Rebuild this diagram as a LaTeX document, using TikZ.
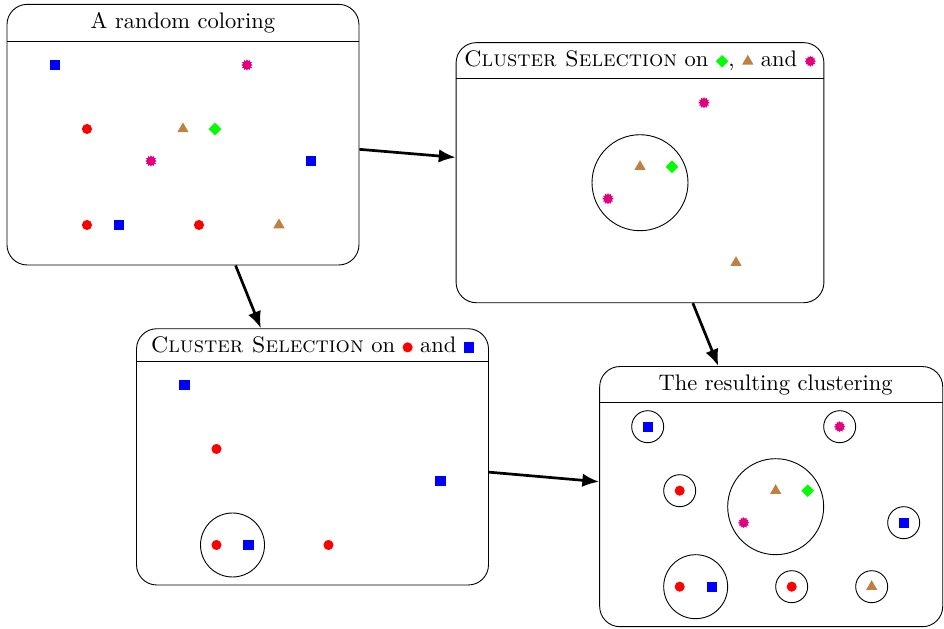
\documentclass[tikz,border=0pt]{standalone}
\usepackage{tikz}
\usetikzlibrary{shapes.geometric,fit,arrows.meta}

\definecolor{starpink}{RGB}{227,0,127}

\tikzset{
  mk/.style={inner sep=0pt, outer sep=0pt, draw=none},
  sq/.style={mk, rectangle, fill=blue, minimum size=4.6pt},
  dot/.style={mk, circle, fill=red, minimum size=4.5pt},
  tri/.style={mk, regular polygon, regular polygon sides=3, fill=brown, minimum size=5.8pt},
  dia/.style={mk, diamond, fill=green, minimum size=5.6pt},
  burst/.style={mk, star, star points=12, star point ratio=1.4, fill=starpink, minimum size=5pt},
  panel/.style={draw, rounded corners=9pt, inner sep=0pt},
  flow/.style={very thick, -{Latex[length=7.5pt,width=6pt]}},
  inmark/.style={baseline={([yshift=-2.3pt]m.center)}}
}

\newcommand{\mksq}{\tikz[inmark]\node[sq] (m) {};}
\newcommand{\mkdot}{\tikz[inmark]\node[dot] (m) {};}
\newcommand{\mktri}{\tikz[inmark]\node[tri] (m) {};}
\newcommand{\mkdia}{\tikz[inmark]\node[dia] (m) {};}
\newcommand{\mkstar}{\tikz[inmark]\node[burst] (m) {};}

\begin{document}
\begin{tikzpicture}
\useasboundingbox (0,0) rectangle (14.75,9.828);

% A random coloring
\begin{scope}[shift={(0.359cm,5.8125cm)}, x=0.5cm, y=0.5cm]
  \foreach \p [count=\i] in {(1,6),(9,3),(3,1)} \node[sq] (sqA\i) at \p {};
  \foreach \p [count=\i] in {(2,4),(2,1),(5.5,1)} \node[dot] (dotA\i) at \p {};
  \foreach \p [count=\i] in {(5,4),(8,1)} \node[tri] (triA\i) at \p {};
  \foreach \p [count=\i] in {(7,6),(4,3)} \node[burst] (starA\i) at \p {};
  \node[dia] (diaA) at (6,4) {};
  \node[anchor=south] (titleA) at (5,6.75) {A random coloring};
  \node[panel, fit={(-0.5,-0.25) (10.5,6.75) (titleA)}] (boxA) {};
  \draw (boxA.west |- titleA.south) -- (boxA.east |- titleA.south);
\end{scope}

% Selection on diamonds, triangles and stars
\begin{scope}[shift={(7.5cm,5.223cm)}, x=0.5cm, y=0.5cm]
  \foreach \p [count=\i] in {(5,4),(8,1)} \node[tri] (triB\i) at \p {};
  \foreach \p [count=\i] in {(7,6),(4,3)} \node[burst] (starB\i) at \p {};
  \node[dia] (diaB) at (6,4) {};
  \draw (5,3.5) circle (1.5);
  \node[anchor=south] (titleB) at (5,6.75) {\textsc{Cluster Selection} on \mkdia, \mktri{} and \mkstar};
  \node[panel, fit={(-0.5,-0.25) (10.5,6.75) (titleB)}] (boxB) {};
  \draw (boxB.west |- titleB.south) -- (boxB.east |- titleB.south);
\end{scope}

% Selection on circles and squares
\begin{scope}[shift={(2.383cm,0.8125cm)}, x=0.5cm, y=0.5cm]
  \foreach \p [count=\i] in {(1,6),(9,3),(3,1)} \node[sq] (sqC\i) at \p {};
  \foreach \p [count=\i] in {(2,4),(2,1),(5.5,1)} \node[dot] (dotC\i) at \p {};
  \draw (2.5,1) circle (1);
  \node[anchor=south] (titleC) at (5,6.75) {\textsc{Cluster Selection} on \mkdot{} and \mksq};
  \node[panel, fit={(-0.5,-0.25) (10.5,6.75) (titleC)}] (boxC) {};
  \draw (boxC.west |- titleC.south) -- (boxC.east |- titleC.south);
\end{scope}

% The resulting clustering
\begin{scope}[shift={(9.62cm,0.161cm)}, x=0.5cm, y=0.5cm]
  \foreach \p [count=\i] in {(1,6),(9,3),(3,1)} \node[sq] (sqD\i) at \p {};
  \foreach \p [count=\i] in {(2,4),(2,1),(5.5,1)} \node[dot] (dotD\i) at \p {};
  \foreach \p [count=\i] in {(5,4),(8,1)} \node[tri] (triD\i) at \p {};
  \foreach \p [count=\i] in {(7,6),(4,3)} \node[burst] (starD\i) at \p {};
  \node[dia] (diaD) at (6,4) {};
  \foreach \p in {(1,6),(7,6),(2,4),(9,3),(5.5,1),(8,1)}
    \draw \p circle (0.5);
  \draw (5,3.5) circle (1.5);
  \draw (2.5,1) circle (1);
  \node[anchor=south] (titleD) at (5,6.75) {The resulting clustering};
  \node[panel, fit={(-0.5,-0.25) (10.22,6.75) (titleD)}] (boxD) {};
  \draw (boxD.west |- titleD.south) -- (boxD.east |- titleD.south);
\end{scope}

% Arrows
\draw[flow] (boxA) -- (boxB);
\draw[flow] (boxA) -- (boxC);
\draw[flow] (boxB) -- (boxD);
\draw[flow] (boxC) -- (boxD);

\end{tikzpicture}
\end{document}
